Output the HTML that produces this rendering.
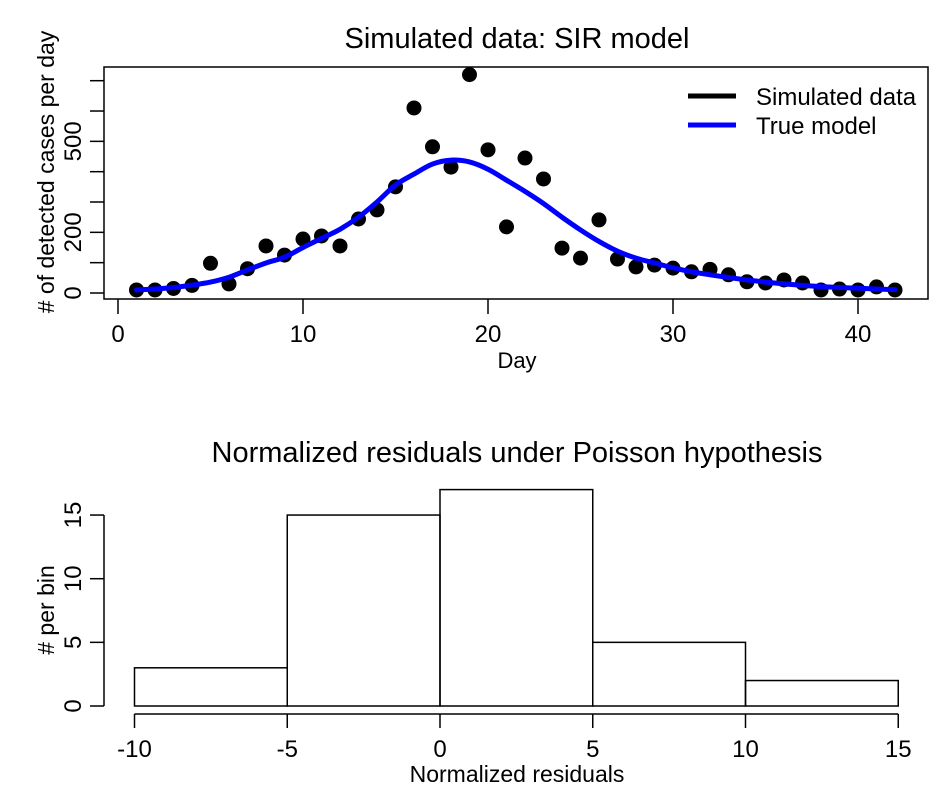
<!DOCTYPE html>
<html><head><meta charset="utf-8"><style>
body{margin:0;background:#fff;}
svg{display:block;font-family:"Liberation Sans",Arial,sans-serif;}
</style></head><body>
<svg id="c" width="946" height="805" viewBox="0 0 946 805" xmlns="http://www.w3.org/2000/svg">
<g id="topg"></g>
<g id="botg"></g>
</svg>
<script>
const days = [1,2,3,4,5,6,7,8,9,10,11,12,13,14,15,16,17,18,19,20,21,22,23,24,25,26,27,28,29,30,31,32,33,34,35,36,37,38,39,40,41,42];
const observed = [10,10,15,25,98,30,80,155,125,178,188,155,244,274,350,610,482,415,720,472,218,445,376,148,115,241,112,86,92,82,70,78,60,37,33,43,33,10,13,10,20,10];
const model = [10,13,18,26,36,52,76,99,118,150,180,210,250,300,356,392,425,438,432,408,372,335,295,250,208,170,138,115,99,83,70,60,51,43,36,30,25,21,18,16,13,11];
const yTicks = [0,100,200,300,400,500,600,700];
const yLabels = ["0","","200","","","500","",""];
const xTicks = [0,10,20,30,40];
const binEdges = [-10,-5,0,5,10,15];
const binCounts = [3,15,17,5,2];
const hYTicks = [0,5,10,15];

const NS="http://www.w3.org/2000/svg";
function mk(p,tag,attrs,txt){const e=document.createElementNS(NS,tag);for(const k in attrs)e.setAttribute(k,attrs[k]);if(txt!==undefined)e.textContent=txt;p.appendChild(e);return e;}
const topG=document.getElementById('topg'), botG=document.getElementById('botg');
const X=d=>118+d*18.5, Y=v=>293-v*0.3033;

let tt=mk(topG,'text',{x:517,y:48,'font-size':29,'text-anchor':'middle'},'Simulated data: SIR model');


let r=mk(topG,'rect',{x:104,y:67,width:824,height:232,fill:'none',stroke:'#000','stroke-width':1.5});


yTicks.forEach((t,i)=>{
  let l=mk(topG,'line',{x1:90,x2:104,y1:Y(t),y2:Y(t),stroke:'#000','stroke-width':1.5});
  
  
  if(yLabels[i]){let tx=mk(topG,'text',{x:0,y:0,'font-size':24,'text-anchor':'middle',transform:`translate(81,${Y(t)}) rotate(-90)`},yLabels[i]);
  
  }
});
xTicks.forEach(t=>{
  let l=mk(topG,'line',{x1:X(t),x2:X(t),y1:299,y2:314,stroke:'#000','stroke-width':1.5});
  
  
  let tx=mk(topG,'text',{x:X(t),y:342,'font-size':24,'text-anchor':'middle'},String(t));
  
  
});
let xl=mk(topG,'text',{x:517,y:368,'font-size':22,'text-anchor':'middle'},'Day');


let yl=mk(topG,'text',{x:0,y:0,'font-size':23,'text-anchor':'middle',transform:'translate(54,172) rotate(-90)'},'# of detected cases per day');


days.forEach((d,i)=>{
  let c=mk(topG,'circle',{cx:X(d),cy:Y(observed[i]),r:7.5,fill:'#000'});
  
  
});
// smooth catmull-rom path through model
const P=days.map((d,i)=>[X(d),Y(model[i])]);
let dstr='M'+P[0][0]+','+P[0][1];
for(let i=0;i<P.length-1;i++){
  const p0=P[Math.max(i-1,0)],p1=P[i],p2=P[i+1],p3=P[Math.min(i+2,P.length-1)];
  const c1=[p1[0]+(p2[0]-p0[0])/6,p1[1]+(p2[1]-p0[1])/6];
  const c2=[p2[0]-(p3[0]-p1[0])/6,p2[1]-(p3[1]-p1[1])/6];
  dstr+=` C${c1[0]},${c1[1]} ${c2[0]},${c2[1]} ${p2[0]},${p2[1]}`;
}
let pl=mk(topG,'path',{d:dstr,fill:'none',stroke:'#0000ff','stroke-width':5,'stroke-linejoin':'round','stroke-linecap':'round'});


let lg=mk(topG,'g',{});


mk(lg,'line',{x1:688,x2:736,y1:96,y2:96,stroke:'#000','stroke-width':5});
let t1=mk(lg,'text',{x:756,y:105,'font-size':24},'Simulated data');


mk(lg,'line',{x1:688,x2:736,y1:125,y2:125,stroke:'#0000ff','stroke-width':5});
let t2=mk(lg,'text',{x:756,y:134,'font-size':24},'True model');



const HX=v=>440+v*30.55, HY=v=>706-v*12.73;
let bt=mk(botG,'text',{x:517,y:462,'font-size':29,'text-anchor':'middle'},'Normalized residuals under Poisson hypothesis');


binCounts.forEach((c,i)=>{
  let b=mk(botG,'rect',{x:HX(binEdges[i]),y:HY(c),width:HX(binEdges[i+1])-HX(binEdges[i]),height:HY(0)-HY(c),fill:'none',stroke:'#000','stroke-width':1.5});
  
  
});
mk(botG,'line',{x1:104,x2:104,y1:HY(0),y2:HY(15),stroke:'#000','stroke-width':1.5});
hYTicks.forEach(t=>{
  let l=mk(botG,'line',{x1:90,x2:104,y1:HY(t),y2:HY(t),stroke:'#000','stroke-width':1.5});
  
  
  let tx=mk(botG,'text',{x:0,y:0,'font-size':24,'text-anchor':'middle',transform:`translate(81,${HY(t)}) rotate(-90)`},String(t));
  
  
});
mk(botG,'line',{x1:HX(-10),x2:HX(15),y1:714,y2:714,stroke:'#000','stroke-width':1.5});
binEdges.forEach(t=>{
  let l=mk(botG,'line',{x1:HX(t),x2:HX(t),y1:714,y2:728,stroke:'#000','stroke-width':1.5});
  
  
  let tx=mk(botG,'text',{x:HX(t),y:757,'font-size':24,'text-anchor':'middle'},String(t));
  
  
});
let hx=mk(botG,'text',{x:517,y:782,'font-size':23,'text-anchor':'middle'},'Normalized residuals');


let hy=mk(botG,'text',{x:0,y:0,'font-size':23,'text-anchor':'middle',transform:'translate(54,610) rotate(-90)'},'# per bin');


</script>
</body></html>
